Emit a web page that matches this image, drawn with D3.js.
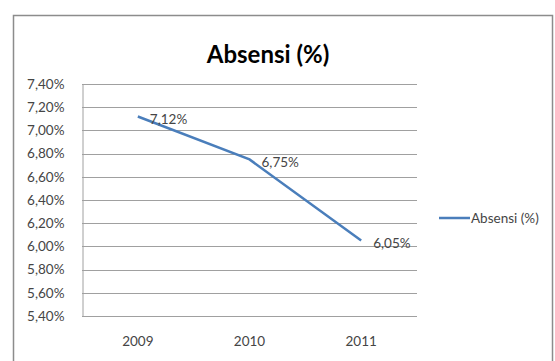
<!DOCTYPE html>
<html>
<head>
<meta charset="utf-8">
<script src="https://cdn.jsdelivr.net/npm/d3@7"></script>
<style>
  body { margin: 0; background: #fff; }
  svg { font-family: Lato, "Open Sans", sans-serif; }
</style>
</head>
<body>
<svg id="chart"></svg>
<script>
// chart size
const width = 555;
const height = 361;
const marginTop = 84;
const marginRight = 138;
const marginBottom = 45;
const marginLeft = 82;

// data
const years = ["2009", "2010", "2011"];
const absensi = [7.12, 6.75, 6.05];
const yTicks = [5.4, 5.6, 5.8, 6.0, 6.2, 6.4, 6.6, 6.8, 7.0, 7.2, 7.4];
const seriesName = "Absensi (%)";

const data = years.map((y, i) => ({ year: y, value: absensi[i] }));

const fmt = v => v.toFixed(2).replace(".", ",") + "%";

const svg = d3.select("#chart")
    .attr("width", width)
    .attr("height", height)
    .attr("viewBox", [0, 0, width, height]);

// outer chart border
svg.append("rect")
    .attr("x", 13.5)
    .attr("y", 15.5)
    .attr("width", 539)
    .attr("height", 360)
    .attr("fill", "#fff")
    .attr("stroke", "#8c8c8c")
    .attr("stroke-width", 1.5);

const x = d3.scaleBand()
    .domain(years)
    .range([marginLeft, width - marginRight]);

const y = d3.scaleLinear()
    .domain([5.4, 7.4])
    .range([height - marginBottom, marginTop]);

// gridlines
svg.append("g")
    .selectAll("line")
    .data(yTicks)
    .join("line")
    .attr("x1", marginLeft)
    .attr("x2", width - marginRight)
    .attr("y1", d => Math.round(y(d)) + 0.5)
    .attr("y2", d => Math.round(y(d)) + 0.5)
    .attr("stroke", "#a0a0a0")
    .attr("stroke-width", 1);

// y axis
svg.append("g")
    .attr("transform", `translate(${marginLeft + 0.5},0)`)
    .call(d3.axisLeft(y).tickValues(yTicks).tickSize(0).tickPadding(18).tickFormat(fmt))
    .call(g => g.select(".domain").attr("stroke", "#a0a0a0"))
    .call(g => g.selectAll("text").attr("font-size", 13.5).attr("fill", "#454545").attr("font-family", "Lato"));

// x axis
svg.append("g")
    .attr("transform", `translate(0,${height - marginBottom})`)
    .call(d3.axisBottom(x).tickSize(0).tickPadding(20))
    .call(g => g.select(".domain").remove())
    .call(g => g.selectAll("text").attr("font-size", 13.5).attr("fill", "#454545").attr("font-family", "Lato"));

// line
const line = d3.line()
    .x(d => x(d.year) + x.bandwidth() / 2)
    .y(d => y(d.value));

svg.append("path")
    .datum(data)
    .attr("fill", "none")
    .attr("stroke", "#4a7ebb")
    .attr("stroke-width", 2.5)
    .attr("d", line);

// data labels
svg.append("g")
    .selectAll("text")
    .data(data)
    .join("text")
    .attr("x", d => x(d.year) + x.bandwidth() / 2 + 12)
    .attr("y", d => y(d.value) + 3)
    .attr("dy", "0.32em")
    .attr("font-size", 13.5)
    .attr("fill", "#454545")
    .text(d => fmt(d.value));

// title
svg.append("text")
    .attr("x", 268)
    .attr("y", 63)
    .attr("text-anchor", "middle")
    .attr("font-size", 24)
    .attr("font-weight", "bold")
    .attr("fill", "#000")
    .text(seriesName);

// legend
const legend = svg.append("g")
    .attr("transform", `translate(439,218)`);

legend.append("line")
    .attr("x1", 0)
    .attr("x2", 31)
    .attr("stroke", "#4a7ebb")
    .attr("stroke-width", 2.5);

legend.append("text")
    .attr("x", 32)
    .attr("dy", "0.35em")
    .attr("font-size", 13.5)
    .attr("fill", "#454545")
    .text(seriesName);
</script>
</body>
</html>
